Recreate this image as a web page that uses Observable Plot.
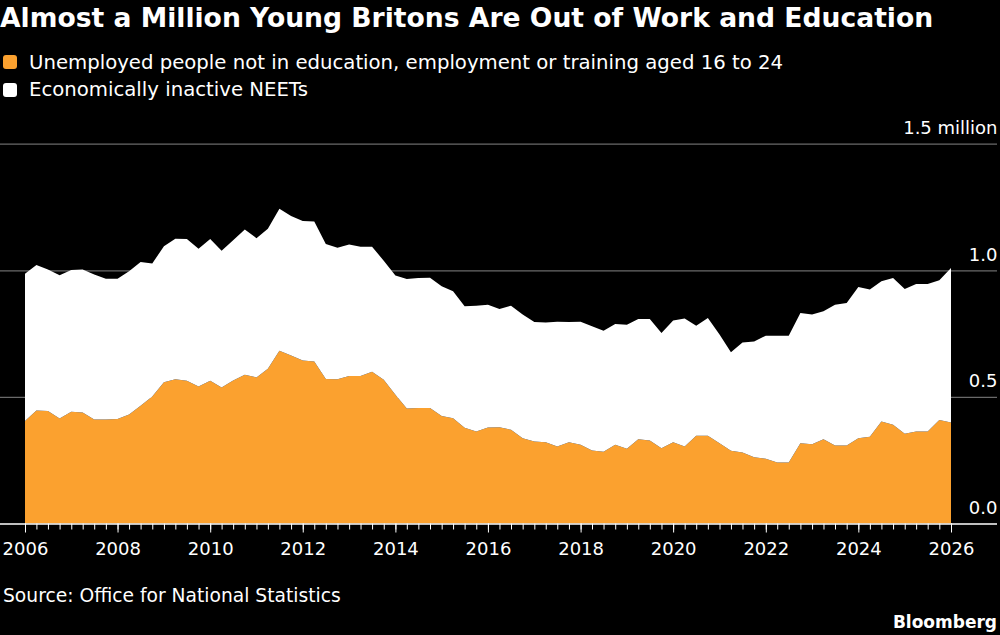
<!DOCTYPE html>
<html>
<head>
<meta charset="utf-8">
<script src="https://cdn.jsdelivr.net/npm/d3@7"></script>
<script src="https://cdn.jsdelivr.net/npm/@observablehq/plot@0.6"></script>
<style>
  html, body { margin: 0; padding: 0; background: #000; }
  #wrap { position: relative; width: 1000px; height: 635px; background: #000; color: #fff; overflow: hidden;
          font-family: "DejaVu Sans", sans-serif; }
  .t { position: absolute; white-space: nowrap; line-height: 1; }
  #title { left: 0; top: 4.6px; font-weight: bold; font-size: 26.6px; }
  .sw { position: absolute; width: 14px; height: 14px; border-radius: 3px; }
  .leg { font-size: 19.7px; left: 29px; }
  #source { left: 3px; top: 587.2px; font-size: 18.7px; }
  #brand { right: 3px; top: 613.6px; font-size: 17px; font-weight: bold; }
  #chart { position: absolute; left: 0; top: 100px; }
</style>
</head>
<body>
<div id="wrap">
  <div class="t" id="title"></div>
  <div class="sw" id="sw0" style="left:3px; top:55px;"></div>
  <div class="t leg" id="leg0" style="top:53.3px;"></div>
  <div class="sw" id="sw1" style="left:3px; top:83px;"></div>
  <div class="t leg" id="leg1" style="top:79.6px;"></div>
  <div id="chart"></div>
  <div class="t" id="source"></div>
  <div class="t" id="brand"></div>
</div>
<script>
// ---- Text ----
const titleText = "Almost a Million Young Britons Are Out of Work and Education";
const sourceText = "Source: Office for National Statistics";
const brandText = "Bloomberg";

// ---- Series (millions), quarterly from 2006 Q1 ----
const seriesNames = [
  "Unemployed people not in education, employment or training aged 16 to 24",
  "Economically inactive NEETs"
];
const seriesColors = ["#fba12f", "#ffffff"];

const unemployed = [
  0.405, 0.446, 0.444, 0.415, 0.441, 0.438, 0.411, 0.411, 0.413, 0.430,
  0.465, 0.502, 0.558, 0.570, 0.564, 0.541, 0.564, 0.537, 0.565, 0.587,
  0.577, 0.611, 0.682, 0.664, 0.644, 0.640, 0.571, 0.570, 0.583, 0.583,
  0.599, 0.568, 0.508, 0.454, 0.456, 0.456, 0.425, 0.416, 0.378, 0.363,
  0.379, 0.380, 0.370, 0.337, 0.324, 0.321, 0.304, 0.321, 0.311, 0.288,
  0.283, 0.311, 0.295, 0.333, 0.328, 0.297, 0.321, 0.304, 0.347, 0.347,
  0.317, 0.287, 0.280, 0.262, 0.256, 0.241, 0.241, 0.317, 0.313, 0.333,
  0.308, 0.308, 0.337, 0.343, 0.403, 0.390, 0.354, 0.363, 0.363, 0.409,
  0.399
];
const inactive = [
  0.581, 0.575, 0.559, 0.565, 0.560, 0.565, 0.572, 0.556, 0.554, 0.566,
  0.568, 0.525, 0.537, 0.555, 0.560, 0.544, 0.560, 0.540, 0.554, 0.574,
  0.550, 0.553, 0.561, 0.550, 0.551, 0.553, 0.533, 0.519, 0.519, 0.510,
  0.494, 0.470, 0.471, 0.512, 0.514, 0.515, 0.512, 0.501, 0.480, 0.497,
  0.485, 0.467, 0.490, 0.488, 0.472, 0.473, 0.493, 0.475, 0.486, 0.491,
  0.478, 0.477, 0.490, 0.475, 0.480, 0.455, 0.481, 0.506, 0.434, 0.465,
  0.429, 0.389, 0.435, 0.457, 0.486, 0.501, 0.501, 0.514, 0.512, 0.505,
  0.556, 0.563, 0.597, 0.581, 0.554, 0.580, 0.572, 0.583, 0.583, 0.552,
  0.610
];

// ---- Axis ticks ----
const xTickYears = [2006, 2008, 2010, 2012, 2014, 2016, 2018, 2020, 2022, 2024, 2026];
const yTicks = [0, 0.5, 1.0, 1.5];
const yTickLabels = ["0.0", "0.5", "1.0", "1.5 million"];
const yGrid = [0.5, 1.0, 1.5];

// ---- Build table ----
const startDate = new Date(Date.UTC(2006, 0, 1));
const endDate = new Date(Date.UTC(2026, 0, 1));
const dates = unemployed.map((_, i) => d3.utcMonth.offset(startDate, 3 * i));
const rows = [
  ...unemployed.map((v, i) => ({date: dates[i], series: seriesNames[0], value: v})),
  ...inactive.map((v, i) => ({date: dates[i], series: seriesNames[1], value: v}))
];
const majorDates = xTickYears.map(y => new Date(Date.UTC(y, 0, 1)));

// ---- Header / footer ----
document.getElementById("title").textContent = titleText;
document.getElementById("leg0").textContent = seriesNames[0];
document.getElementById("leg1").textContent = seriesNames[1];
document.getElementById("sw0").style.background = seriesColors[0];
document.getElementById("sw1").style.background = seriesColors[1];
document.getElementById("source").textContent = sourceText;
document.getElementById("brand").textContent = brandText;

// ---- Chart ----
const chart = Plot.plot({
  width: 1000,
  height: 470,
  marginLeft: 25,
  marginRight: 49,
  marginTop: 43.7,
  marginBottom: 46.5,
  style: {background: "#000", color: "#fff", fontFamily: "DejaVu Sans, sans-serif", overflow: "visible"},
  x: {type: "utc", domain: [startDate, endDate], label: null},
  y: {domain: [0, 1.5], axis: null, label: null},
  color: {domain: seriesNames, range: seriesColors},
  marks: [
    Plot.ruleY(yGrid, {stroke: "#6a6a6a", strokeWidth: 1.2, insetLeft: -25, insetRight: -46}),
    Plot.areaY(rows, {x: "date", y: "value", fill: "series", z: "series"}),
    Plot.ruleY([0], {stroke: "#fff", strokeWidth: 1.6, insetLeft: -25, insetRight: -46}),
    Plot.axisX({ticks: d3.utcMonth.every(3), tickSize: 6, tickFormat: () => "", stroke: "#fff", label: null}),
    Plot.axisX({ticks: majorDates, tickSize: 9, tickPadding: 9, tickFormat: "%Y", fontSize: 18, fill: "#fff", stroke: "#fff", label: null}),
    Plot.text(yTicks, {
      y: d => d,
      text: (d, i) => yTickLabels[i],
      frameAnchor: "right",
      textAnchor: "end",
      dx: 46,
      dy: -16,
      fill: "#fff",
      fontSize: 18
    })
  ]
});
document.getElementById("chart").appendChild(chart);
</script>
</body>
</html>
